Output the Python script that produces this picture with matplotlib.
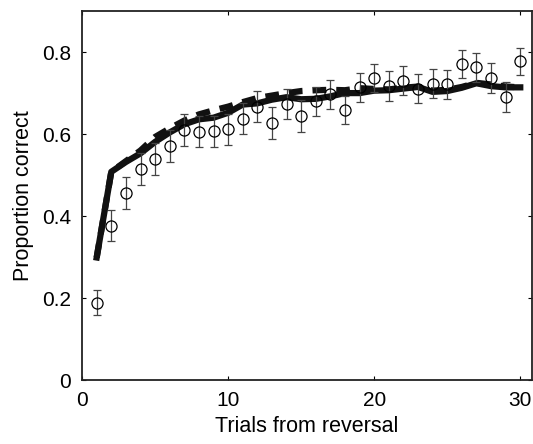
import numpy as np
import matplotlib
matplotlib.use("Agg")
import matplotlib.pyplot as plt

plt.rcParams['font.family'] = ['Liberation Sans', 'DejaVu Sans']

# observed proportion correct (circles) with error bars
trials = np.arange(1, 31)
obs = [0.189, 0.377, 0.457, 0.516, 0.539, 0.571, 0.610, 0.606, 0.607, 0.612,
       0.638, 0.667, 0.626, 0.673, 0.644, 0.680, 0.697, 0.659, 0.714, 0.737,
       0.717, 0.730, 0.711, 0.723, 0.721, 0.771, 0.763, 0.737, 0.691, 0.778]
err = [0.031, 0.038, 0.039, 0.039, 0.039, 0.039, 0.039, 0.038, 0.038, 0.038,
       0.038, 0.037, 0.039, 0.037, 0.038, 0.036, 0.036, 0.035, 0.036, 0.035,
       0.036, 0.035, 0.036, 0.036, 0.036, 0.034, 0.035, 0.036, 0.037, 0.033]

# model fits
model_solid = [0.299, 0.508, 0.532, 0.553, 0.581, 0.604, 0.624, 0.636, 0.640, 0.652,
               0.672, 0.675, 0.684, 0.690, 0.685, 0.686, 0.692, 0.700, 0.700, 0.706,
               0.707, 0.711, 0.715, 0.703, 0.705, 0.713, 0.724, 0.717, 0.714, 0.714]
model_dash = [0.299, 0.508, 0.534, 0.560, 0.593, 0.614, 0.633, 0.648, 0.658, 0.667,
              0.678, 0.688, 0.694, 0.700, 0.705, 0.707, 0.708, 0.707, 0.712, 0.710,
              0.709, 0.713, 0.716, 0.706, 0.708, 0.715, 0.725, 0.721, 0.716, 0.714]

fig = plt.figure(figsize=(5.33, 4.44), dpi=100)
ax = fig.add_axes([0.154, 0.144, 0.844, 0.831])

ax.plot(trials, model_dash, color='#111111', lw=4.5, dashes=(2.2, 1.6), solid_capstyle='butt')
ax.plot(trials, model_solid, color='#111111', lw=4.5)
ax.errorbar(trials, obs, yerr=err, fmt='o', mfc='none', mec='black', mew=0.9,
            ms=8, ecolor='#444444', elinewidth=0.9, capsize=3, capthick=0.9, zorder=3)

ax.set_xlim(0, 30.8)
ax.set_ylim(0, 0.9)
ax.set_xticks([0, 10, 20, 30])
ax.set_yticks([0, 0.2, 0.4, 0.6, 0.8])
ax.set_yticklabels(['0', '0.2', '0.4', '0.6', '0.8'])
ax.tick_params(direction='in', length=3, width=0.8, top=True, right=True, labelsize=15)
ax.tick_params(axis='y', pad=8)
ax.tick_params(axis='x', pad=8)
for s in ax.spines.values():
    s.set_linewidth(1.3)
    s.set_color('#222222')

ax.set_xlabel('Trials from reversal', fontsize=15.5, labelpad=4)
ax.set_ylabel('Proportion correct', fontsize=15.5, labelpad=6)

fig.savefig('out.png', dpi=100)
